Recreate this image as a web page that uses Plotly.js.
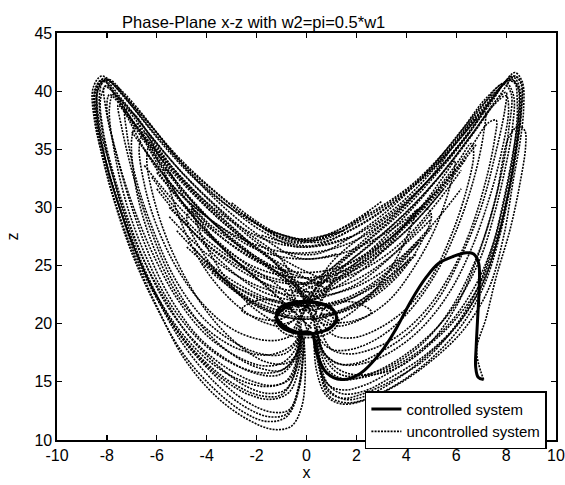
<!DOCTYPE html>
<html>
<head>
<meta charset="utf-8">
<script src="https://cdn.plot.ly/plotly-3.0.1.min.js"></script>
<style>html,body{margin:0;padding:0;background:#fff}#chart{width:565px;height:485px}</style>
</head>
<body>
<div id="chart"></div>
<script>
// ---- data (x, z pairs; null separates loops) ----
const leftWingX = [
 1.5,-0.7,-2.2,-3.6,-5.1,-6.3,-7.4,-8.2,-8.55,-8.5,-8.1,-7.6,-6.9,-6.0,-4.9,-3.6,-2.3,-1.3,-0.6,-0.2,-0.05,-0.1,null,
 0.3,-1.0,-2.4,-3.8,-5.2,-6.4,-7.4,-8.1,-8.4,-8.35,-7.95,-7.4,-6.7,-5.8,-4.6,-3.4,-2.3,-1.4,-0.7,-0.3,-0.15,null,
 0.4,-0.9,-2.5,-4.0,-5.4,-6.6,-7.5,-8.0,-8.25,-8.15,-7.75,-7.2,-6.5,-5.6,-4.4,-3.2,-2.1,-1.3,-0.6,-0.3,null,
 2.5,0.6,-1.2,-2.8,-4.4,-5.8,-7.0,-7.9,-8.3,-8.4,-8.1,-7.6,-6.9,-6.1,-5.0,-3.8,-2.6,-1.6,-0.8,-0.35,-0.2,null,
 0.5,-0.8,-2.3,-3.9,-5.4,-6.6,-7.5,-7.9,-8.0,-7.6,-7.0,-6.2,-5.2,-4.0,-2.8,-1.8,-1.0,-0.45,-0.25,null,
 0.3,-1.1,-2.6,-4.0,-5.3,-6.3,-6.8,-7.0,-6.9,-6.5,-5.8,-4.9,-3.8,-2.7,-1.7,-0.9,-0.4,-0.3,null,
 0.6,-0.9,-2.4,-3.8,-5.0,-5.9,-6.5,-6.7,-6.5,-6.0,-5.2,-4.2,-3.1,-2.0,-1.1,-0.5,-0.3,null,
 0.5,-1.0,-2.5,-3.8,-4.8,-5.5,-5.7,-5.4,-4.8,-3.9,-2.8,-1.8,-0.9,-0.4,null,
 1.0,-0.5,-2.0,-3.5,-5.0,-6.3,-7.2,-7.74,-7.9,-7.7,-7.2,-6.4,-5.4,-4.2,-3.0,-1.9,-1.0,-0.4,-0.2,null,
 3.0,1.2,-0.5,-2.0,-3.4,-4.9,-6.2,-7.3,-8.1,-8.45,-8.4,-8.0,-7.45,-6.8,-5.9,-4.8,-3.6,-2.4,-1.4,-0.7,-0.3,-0.1,null,
 0.2,-1.2,-2.6,-3.9,-5.1,-5.9,-6.3,-6.4,-6.1,-5.5,-4.6,-3.6,-2.5,-1.6,-0.8,-0.35,-0.2,null,
 0.4,-1.0,-2.3,-3.5,-4.3,-4.6,-4.4,-3.8,-2.9,-1.9,-1.0,-0.4,null,
 1.8,-0.3,-1.8,-3.3,-4.8,-6.1,-7.2,-8.0,-8.35,-8.3,-7.85,-7.3,-6.6,-5.7,-4.7,-3.5,-2.4,-1.5,-0.8,-0.35,-0.15,null,
 0.6,-0.8,-2.2,-3.7,-5.2,-6.5,-7.5,-8.15,-8.45,-8.4,-8.0,-7.45,-6.75,-5.9,-4.9,-3.7,-2.5,-1.5,-0.75,-0.3,-0.1,null,
 0.2,-1.3,-2.9,-4.4,-5.8,-6.9,-7.7,-8.1,-8.05,-7.6,-7.0,-6.3,-5.4,-4.3,-3.1,-2.0,-1.1,-0.5,-0.2,null,
 0.8,-0.6,-2.1,-3.6,-5.0,-6.1,-6.9,-7.25,-7.2,-6.8,-6.1,-5.2,-4.1,-2.9,-1.8,-0.9,-0.4,-0.2,null,
 1.2,-0.2,-1.7,-3.2,-4.6,-5.8,-6.8,-7.6,-8.1,-8.3,-8.15,-7.7,-7.1,-6.3,-5.3,-4.1,-2.9,-1.8,-1.0,-0.45,-0.2,null,
 0.0,-1.4,-2.9,-4.3,-5.6,-6.6,-7.3,-7.55,-7.4,-6.9,-6.2,-5.3,-4.2,-3.0,-1.9,-1.0,-0.5,-0.25,null,
 0.1,-1.1,-2.6,-4.1,-5.6,-6.8,-7.7,-8.2,-8.5,-8.45,-8.1,-7.6,-6.95,-6.1,-5.0,-3.8,-2.6,-1.6,-0.8,-0.3,-0.1,null,
 0.5,-1.0,-2.5,-3.8,-4.6,-4.8,-4.3,-3.4,-2.3,-1.2,-0.4
];
const leftWingZ = [
 28.0,27.3,28.9,31.2,34.1,37.2,39.8,41.3,40.3,37.5,33.8,30.0,25.8,21.5,17.0,13.7,11.7,10.9,11.2,12.8,15.5,18.6,null,
 20.2,25.5,27.9,30.5,33.5,36.6,39.3,40.9,39.8,37.0,33.3,29.5,25.5,21.5,17.8,15.3,13.9,13.5,14.1,16.2,19.0,null,
 20.8,24.6,27.2,30.0,33.1,36.3,39.0,40.5,39.4,36.6,33.0,29.3,25.4,21.6,18.3,16.2,15.0,14.7,15.4,19.2,null,
 29.6,27.2,27.8,29.6,32.3,35.5,38.7,41.0,40.6,38.5,34.5,30.6,26.5,22.8,19.2,16.6,15.1,14.6,15.1,17.2,19.5,null,
 21.5,23.8,26.2,29.0,32.5,36.0,38.9,39.7,38.4,34.5,30.4,26.2,22.2,19.0,17.2,16.4,16.6,17.8,19.8,null,
 20.5,23.2,25.4,28.0,31.4,35.0,37.2,36.0,32.5,28.8,25.0,21.6,19.2,17.8,17.3,17.7,18.6,20.0,null,
 22.0,24.0,26.2,28.8,31.6,34.4,36.4,35.3,32.0,28.4,24.8,21.8,19.7,18.7,18.6,19.2,20.5,null,
 22.8,24.3,26.0,28.2,30.6,33.0,33.3,31.0,27.6,24.2,21.6,20.2,19.8,20.6,null,
 23.5,25.0,27.0,29.8,33.0,36.3,38.7,39.7,38.5,34.8,30.2,25.6,21.5,18.4,16.6,15.8,16.0,17.4,19.6,null,
 30.5,28.0,27.1,28.6,30.9,33.8,36.9,39.6,41.1,40.2,37.3,33.6,29.7,25.6,21.8,18.2,15.4,13.3,12.4,12.6,14.6,18.8,null,
 19.6,22.4,25.0,27.6,30.8,33.8,35.3,34.0,30.6,26.8,23.0,20.0,17.8,16.7,16.6,17.6,19.4,null,
 21.0,22.6,24.4,26.8,29.0,30.0,28.6,25.8,23.0,21.0,20.0,20.4,null,
 27.5,26.6,28.0,30.4,33.3,36.4,39.2,40.9,40.1,37.2,33.4,29.6,25.8,22.2,18.9,16.3,14.6,14.0,14.4,16.6,19.3,null,
 19.4,24.2,26.8,29.6,32.8,36.1,39.1,40.9,40.0,37.2,33.5,29.7,25.7,21.8,18.1,15.0,12.9,12.0,12.3,14.8,18.9,null,
 21.8,24.4,27.0,30.2,33.8,37.2,39.8,40.4,38.6,34.4,30.0,25.9,22.0,18.8,16.8,15.7,15.6,16.8,19.2,null,
 23.0,24.6,26.6,29.2,32.4,35.6,38.0,38.4,36.4,32.2,27.8,23.6,20.4,18.4,17.4,17.4,18.4,20.2,null,
 26.0,25.6,27.3,29.8,32.8,35.9,38.6,40.4,41.0,39.6,36.2,32.2,28.0,23.8,19.8,16.8,14.8,13.8,13.9,15.8,19.0,null,
 20.0,22.8,25.6,28.6,32.0,35.4,38.2,38.8,36.8,32.4,27.8,23.4,19.8,17.4,16.2,16.0,17.0,19.4,null,
 19.0,24.8,27.6,30.6,34.0,37.4,39.9,41.0,40.0,37.3,33.6,29.8,25.8,21.8,17.6,14.6,12.5,11.6,12.0,14.4,18.6,null,
 23.6,24.6,26.4,28.4,29.8,29.0,26.6,24.0,22.2,21.2,21.0
];
const rightWingX = [
 -1.5,0.3,1.6,3.0,4.3,5.7,7.0,7.8,8.35,8.65,8.7,8.55,8.3,7.9,7.3,6.3,5.0,3.6,2.3,1.4,0.8,0.4,0.3,null,
 -0.3,0.9,2.2,3.6,5.0,6.3,7.4,8.15,8.5,8.5,8.3,8.0,7.55,6.9,5.9,4.7,3.4,2.3,1.5,0.9,0.5,0.35,null,
 -0.2,1.0,2.4,3.8,5.1,6.4,7.4,8.0,8.3,8.25,7.95,7.55,7.0,6.2,5.2,4.0,2.9,2.0,1.3,0.7,0.4,null,
 -2.5,-0.6,1.0,2.6,4.2,5.7,6.9,7.8,8.3,8.45,8.3,7.95,7.5,6.8,5.8,4.6,3.4,2.3,1.4,0.8,0.45,null,
 -0.4,0.8,2.3,3.8,5.3,6.6,7.5,8.0,8.1,7.8,7.3,6.6,5.7,4.6,3.4,2.3,1.4,0.7,0.4,null,
 7.1,6.82,7.2,7.6,8.16,8.55,8.78,8.75,8.5,8.1,7.6,6.9,6.0,4.8,3.4,2.0,1.2,0.6,0.4,null,
 -0.3,1.0,2.5,4.0,5.4,6.6,7.3,7.6,7.55,7.2,6.6,5.8,4.8,3.7,2.6,1.7,1.0,0.5,null,
 -0.2,1.1,2.5,3.9,5.1,6.1,6.6,6.7,6.4,5.8,5.0,4.0,2.9,1.9,1.1,0.5,null,
 -0.4,1.0,2.4,3.7,4.8,5.6,5.95,5.8,5.2,4.3,3.3,2.2,1.2,0.5,null,
 -3.0,-1.2,0.5,2.0,3.5,4.9,6.3,7.5,8.25,8.6,8.6,8.4,8.1,7.7,7.1,6.1,4.9,3.6,2.4,1.5,0.8,0.4,null,
 -0.4,0.9,2.2,3.3,4.1,4.4,4.2,3.6,2.7,1.7,0.8,0.3,null,
 -1.8,0.2,1.7,3.2,4.7,6.0,7.1,7.9,8.3,8.55,8.55,8.35,8.05,7.6,6.9,5.9,4.7,3.4,2.3,1.4,0.8,0.45,null,
 -0.5,0.7,2.1,3.6,5.1,6.4,7.4,8.1,8.45,8.5,8.25,7.9,7.45,6.8,5.9,4.8,3.5,2.3,1.4,0.8,0.4,null,
 -0.2,1.2,2.7,4.2,5.6,6.8,7.6,8.0,7.95,7.55,7.0,6.2,5.3,4.2,3.0,2.0,1.2,0.6,0.3,null,
 -0.6,0.6,2.0,3.5,4.9,6.0,6.8,7.15,7.1,6.7,6.0,5.1,4.0,2.9,1.8,1.0,0.5,0.3,null,
 -1.0,0.4,1.9,3.4,4.9,6.2,7.2,7.9,8.2,8.1,7.8,7.3,6.6,5.7,4.6,3.4,2.3,1.4,0.8,0.4,null,
 0.0,1.3,2.8,4.3,5.7,6.9,7.8,8.35,8.6,8.6,8.4,8.1,7.7,7.1,6.2,5.0,3.7,2.5,1.6,0.9,0.5,0.3,null,
 -0.5,1.0,2.5,3.8,4.7,5.0,4.6,3.7,2.6,1.4,0.5
];
const rightWingZ = [
 28.0,27.2,28.4,30.1,32.1,35.2,38.7,40.4,41.6,40.8,38.4,35.5,32.5,27.5,23.0,19.5,16.8,14.7,13.4,13.1,13.8,16.0,19.0,null,
 20.0,25.0,27.5,29.8,32.6,35.8,39.0,41.1,40.3,37.5,34.0,30.5,26.8,23.2,20.2,17.8,15.9,14.7,14.3,14.7,16.4,19.3,null,
 20.6,24.4,27.0,29.6,32.6,36.0,39.2,40.7,39.6,36.8,33.2,29.6,25.8,22.4,19.6,17.4,16.0,15.3,15.2,16.0,19.2,null,
 29.4,27.0,27.6,29.4,31.8,35.0,38.3,40.6,40.9,38.7,34.8,30.8,27.0,23.4,20.2,17.8,16.2,15.4,15.3,16.2,19.5,null,
 21.5,23.8,26.4,29.2,32.6,36.2,38.8,39.6,38.4,34.6,30.6,26.4,22.6,19.6,17.6,16.6,16.5,17.5,19.8,null,
 15.2,17.7,20.5,24.0,28.1,32.0,35.2,36.6,37.0,36.0,31.0,26.0,21.5,18.0,16.0,15.6,16.2,18.0,20.0,null,
 21.0,23.2,25.6,28.4,31.6,35.2,37.3,37.5,36.0,32.4,28.2,24.4,21.2,19.0,17.8,17.4,17.8,19.8,null,
 21.8,23.6,25.8,28.4,31.2,34.0,35.5,34.6,31.4,27.6,24.0,21.3,19.6,18.8,19.0,20.4,null,
 22.6,24.0,25.8,28.0,30.6,33.0,34.0,32.2,28.4,24.8,22.0,20.4,19.8,20.6,null,
 30.4,27.8,27.0,28.3,30.4,33.0,36.3,39.5,41.3,40.8,38.2,35.0,31.4,27.6,23.6,20.0,17.4,15.2,13.8,13.5,14.6,18.6,null,
 21.4,22.8,24.6,26.8,28.9,29.8,28.4,25.6,22.8,20.8,19.9,20.5,null,
 27.6,26.7,28.0,30.0,32.6,35.6,38.6,40.6,41.2,40.2,37.6,34.4,30.8,26.8,22.8,19.6,17.2,15.4,14.2,14.0,15.0,18.8,null,
 19.6,24.0,26.8,29.6,32.8,36.2,39.2,40.9,40.4,38.0,34.4,30.6,26.6,22.8,19.6,17.0,15.2,14.0,13.6,14.4,18.6,null,
 21.2,23.8,26.6,29.8,33.4,36.8,39.2,39.9,38.4,34.4,30.0,25.8,22.2,19.4,17.6,16.6,16.6,17.8,20.0,null,
 22.6,24.2,26.4,29.2,32.4,35.6,37.8,38.2,36.4,32.4,28.0,24.0,20.8,18.8,17.8,17.8,18.8,20.4,null,
 26.2,26.0,27.6,30.0,33.2,36.6,39.4,40.6,39.8,36.6,32.8,28.6,24.6,21.0,18.2,16.4,15.6,15.6,16.8,19.6,null,
 19.2,24.4,27.2,30.2,33.6,37.0,39.8,41.3,40.6,38.0,34.6,31.0,27.2,23.2,19.8,17.0,14.9,13.6,13.2,13.8,16.2,19.2,null,
 23.2,24.4,26.2,28.4,30.0,29.4,27.0,24.2,22.2,21.0,20.8
];
const centerX = [
 -5.0,-3.5,-2.0,-0.5,0.5,2.0,3.5,5.0,null,
 -4.5,-3.0,-1.5,0.0,1.5,3.0,4.5,null,
 -6.0,-4.5,-3.0,-1.5,0.0,1.5,3.0,4.5,6.0,null,
 -5.5,-4.0,-2.5,-1.0,0.5,2.0,3.5,5.0,null,
 -4.0,-2.8,-1.5,-0.3,0.8,2.0,3.2,4.2,null,
 -6.5,-5.0,-3.5,-2.0,-0.5,1.0,2.5,4.0,5.5,6.8,null,
 -7.0,-5.5,-4.0,-2.5,-1.0,0.5,2.0,3.5,5.0,6.5,null,
 -6.5,-5.0,-3.5,-2.0,-0.5,1.0,2.5,4.0,5.5,null,
 -5.5,-4.0,-2.5,-1.0,0.5,2.0,3.5,5.0,6.2,null,
 -4.8,-3.5,-2.2,-1.0,0.2,1.4,2.6,3.8,5.0,null,
 -3.8,-2.6,-1.4,-0.3,0.8,2.0,3.2,4.4,null,
 -6.0,-4.6,-3.2,-1.8,-0.4,1.0,2.4,3.8,5.2,6.4,null,
 -7.2,-5.8,-4.4,-3.0,-1.6,-0.2,1.2,2.6,4.0,5.4,6.8,null,
 -5.2,-3.8,-2.4,-1.0,0.4,1.8,3.2,4.6,null,
 -6.2,-4.8,-3.4,-2.0,-0.6,0.8,2.2,3.6,5.0,6.2,null,
 -4.2,-3.0,-1.8,-0.6,0.6,1.8,3.0,4.2,null,
 -1.3,-0.9,0.0,0.9,1.3,0.9,0.0,-0.9,-1.3,null,
 -1.0,-0.6,0.2,0.9,1.1,0.6,-0.3,-0.9,-1.0,null,
 -2.6,-2.0,-1.2,-0.6,-1.0,-1.8,-2.6,null,
 2.6,2.0,1.2,0.6,1.0,1.8,2.6
];
const centerZ = [
 29.0,25.5,23.0,22.0,22.2,23.4,26.0,29.5,null,
 26.5,23.0,21.0,20.4,21.2,23.4,27.0,null,
 33.0,29.4,26.8,25.0,24.4,25.0,26.8,29.6,33.4,null,
 30.0,26.8,24.4,23.0,22.8,23.8,26.0,29.0,null,
 25.4,22.8,21.2,20.6,20.8,21.8,23.6,25.8,null,
 35.0,31.0,28.4,26.4,25.6,25.8,27.0,29.0,32.0,35.4,null,
 36.5,32.2,29.2,27.2,26.2,26.2,27.2,29.4,32.6,36.4,null,
 33.6,29.8,26.8,24.8,24.0,24.2,25.6,28.0,31.6,null,
 29.2,26.0,23.8,22.6,22.4,23.2,25.2,28.4,31.6,null,
 26.6,24.2,22.4,21.4,21.2,21.8,23.2,25.4,28.2,null,
 24.4,22.4,21.0,20.4,20.6,21.6,23.4,26.0,null,
 31.6,28.0,25.6,24.0,23.4,23.8,25.2,27.6,30.8,34.2,null,
 38.0,34.4,31.2,28.8,27.2,26.6,27.0,28.4,30.8,34.0,37.6,null,
 28.0,25.0,23.0,21.8,21.6,22.4,24.4,27.4,null,
 32.6,28.8,26.2,24.4,23.6,23.6,24.6,26.6,29.8,33.2,null,
 25.2,23.4,22.2,21.6,21.6,22.2,23.6,25.6,null,
 20.3,21.4,21.8,21.3,20.2,19.2,18.8,19.2,20.3,null,
 20.6,21.4,21.5,21.0,20.0,19.3,19.1,19.6,20.6,null,
 21.2,22.0,22.0,21.2,20.4,20.4,21.2,null,
 21.0,21.8,21.8,21.0,20.2,20.2,21.0
];
const controlledX = [7.1,6.88,6.78,6.8,6.86,6.92,6.9,6.7,6.4,5.9,5.3,4.8,4.2,3.6,3.0,2.14,1.4,0.8,0.4,0.2,-0.4,-0.9,-1.2,-1.1,-0.6,0.2,0.9,1.2,1.0,0.4,-0.4,-1.0,-1.2,-0.9,-0.2,0.6,1.1,1.2,0.8];
const controlledZ = [15.2,15.4,16.3,18.0,20.5,23.0,25.2,26.0,26.1,25.8,25.2,24.0,22.0,19.6,17.6,15.7,15.2,15.8,17.5,19.2,19.3,19.8,20.6,21.3,21.8,21.9,21.5,20.6,19.7,19.2,19.2,19.7,20.5,21.3,21.8,21.7,21.1,20.2,19.5];
const xTicks = [-10,-8,-6,-4,-2,0,2,4,6,8,10];
const zTicks = [10,15,20,25,30,35,40,45];

const dotted = {color:'#000', width:1.6, dash:'2px,1.2px', shape:'spline', smoothing:1};
const traces = [
 {x:leftWingX, y:leftWingZ, mode:'lines', line:dotted, name:'uncontrolled system', legendgroup:'u', legendrank:2, showlegend:true, connectgaps:false, hoverinfo:'skip'},
 {x:rightWingX, y:rightWingZ, mode:'lines', line:dotted, name:'uncontrolled system', legendgroup:'u', showlegend:false, connectgaps:false, hoverinfo:'skip'},
 {x:centerX, y:centerZ, mode:'lines', line:dotted, name:'uncontrolled system', legendgroup:'u', showlegend:false, connectgaps:false, hoverinfo:'skip'},
 {x:controlledX, y:controlledZ, mode:'lines', line:{color:'#000', width:3, shape:'spline', smoothing:1}, name:'controlled system', legendrank:1, hoverinfo:'skip'}
];
const font = {family:'"Liberation Sans", Arial, Helvetica, sans-serif', color:'#000'};
const layout = {
 width:565, height:485,
 margin:{l:57, r:9, t:33, b:45, pad:0},
 paper_bgcolor:'#fff', plot_bgcolor:'#fff',
 font:Object.assign({size:16}, font),
 title:{text:'Phase-Plane x-z with w2=pi=0.5*w1', x:0.449, xref:'container', xanchor:'center', y:0.955, yref:'container', yanchor:'middle', font:Object.assign({size:16.5}, font)},
 xaxis:{range:[-10,10], tickvals:xTicks, ticktext:xTicks.map(String), ticks:'inside', ticklen:5, tickwidth:1.2, tickcolor:'#000',
   showline:true, linecolor:'#000', linewidth:1.6, mirror:'ticks', showgrid:false, zeroline:false, automargin:false,
   tickfont:Object.assign({size:16}, font), title:{text:'x', standoff:3, font:Object.assign({size:16}, font)}},
 yaxis:{range:[10,45], tickvals:zTicks, ticktext:zTicks.map(String), ticks:'inside', ticklen:5, tickwidth:1.2, tickcolor:'#000',
   showline:true, linecolor:'#000', linewidth:1.6, mirror:'ticks', showgrid:false, zeroline:false, automargin:false,
   tickfont:Object.assign({size:16}, font), title:{text:'z', standoff:12, font:Object.assign({size:16}, font)}},
 legend:{x:0.617, y:0.12, xanchor:'left', yanchor:'top', bgcolor:'#fff', bordercolor:'#000', borderwidth:1.5,
   font:Object.assign({size:15}, font), tracegroupgap:0},
 showlegend:true
};
Plotly.newPlot('chart', traces, layout, {staticPlot:true, displayModeBar:false});
</script>
</body>
</html>
